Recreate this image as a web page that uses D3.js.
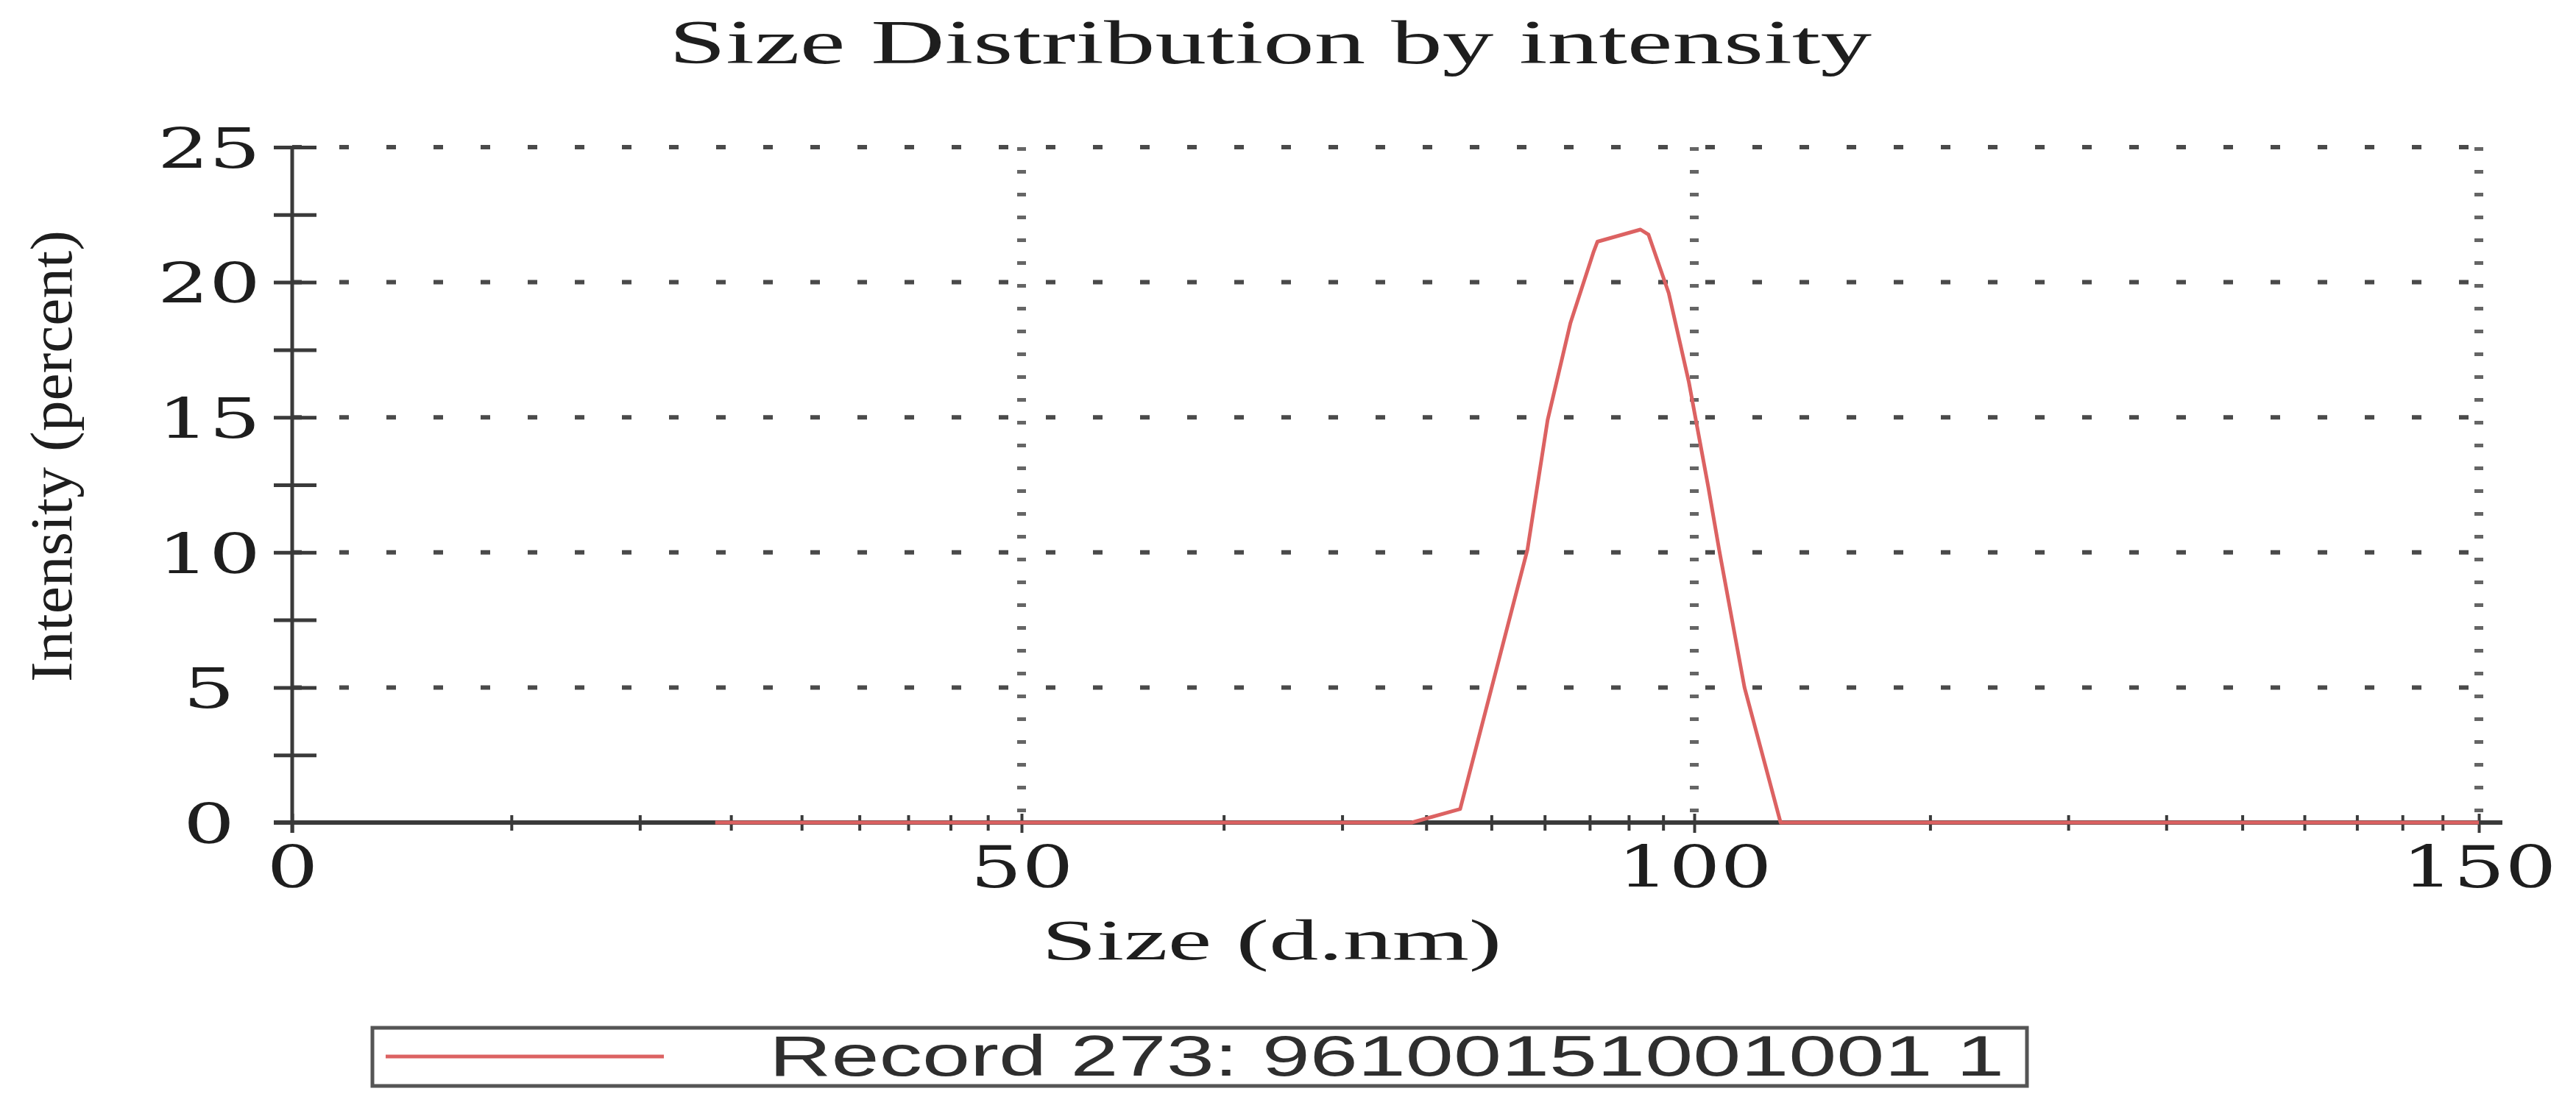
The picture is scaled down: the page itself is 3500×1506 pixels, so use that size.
<!DOCTYPE html>
<html>
<head>
<meta charset="utf-8">
<script src="https://cdn.jsdelivr.net/npm/d3@7"></script>
<style>
  html, body { margin: 0; padding: 0; background: #ffffff; }
  svg { display: block; }
</style>
</head>
<body>
<svg id="chart" width="3500" height="1506"></svg>
<script>
// ---- data ----
const chartTitle = "Size Distribution by intensity";
const xTitle = "Size (d.nm)";
const yTitle = "Intensity (percent)";
const legendLabel = "Record 273: 96100151001001 1";

const xTickValues = [0, 50, 100, 150];
const yTickValues = [0, 5, 10, 15, 20, 25];
const yMinorValues = [2.5, 7.5, 12.5, 17.5, 22.5];

const sizes = [29, 40, 50, 60, 70, 79, 82.6, 85.1, 87.6, 89.1, 90.8, 92.5, 92.8, 96.0, 96.6, 98.1, 99.6, 100.9, 101.6, 103.2, 105.5, 110, 120, 130, 140, 150];
const intensity = [0, 0, 0, 0, 0, 0, 0.5, 5.3, 10.1, 14.9, 18.5, 21.1, 21.5, 21.95, 21.76, 19.6, 16.3, 12.4, 10.05, 5.0, 0, 0, 0, 0, 0, 0];

// ---- layout ----
const svg = d3.select("#chart");
const x = d3.scaleLinear().domain(xTickValues).range([397, 1388, 2302, 3368]);
const y = d3.scaleLinear().domain([0, 25]).range([1118, 200]);

const axisColor = "#3a3a3a";
const gridColor = "#4a4a4a";
const lineColor = "#dc6262";
const textColor = "#1e1e1e";

// ---- grid ----
const grid = svg.append("g");
grid.selectAll("line.hg")
  .data(yTickValues.filter(v => v > 0))
  .join("line")
  .attr("x1", x(0)).attr("x2", x(150))
  .attr("y1", d => y(d)).attr("y2", d => y(d))
  .attr("stroke", gridColor).attr("stroke-width", 6)
  .attr("stroke-dasharray", "13,51");

grid.selectAll("line.vg")
  .data(xTickValues.filter(v => v > 0))
  .join("line")
  .attr("x1", d => x(d)).attr("x2", d => x(d))
  .attr("y1", y(25)).attr("y2", y(0))
  .attr("stroke", gridColor).attr("stroke-width", 12).attr("stroke-opacity", 0.85)
  .attr("stroke-dasharray", "5,26");

// ---- y axis ----
const yAxis = svg.append("g").attr("transform", `translate(${x(0)},0)`)
  .call(d3.axisLeft(y).tickValues(yTickValues.concat(yMinorValues)).tickSize(25).tickFormat(d => Number.isInteger(d) ? d : ""));
yAxis.select(".domain").remove();
yAxis.selectAll(".tick line").attr("x1", -25).attr("x2", 33).attr("stroke", axisColor).attr("stroke-width", 5);
yAxis.selectAll(".tick text")
  .attr("x", -113).attr("dy", "0.37em")
  .attr("text-anchor", "middle")
  .attr("fill", textColor)
  .style("font-family", "'DejaVu Serif', serif")
  .style("font-size", "74px")
  .attr("textLength", d => String(d).length * 70)
  .attr("lengthAdjust", "spacingAndGlyphs");
svg.append("line")
  .attr("x1", x(0)).attr("x2", x(0)).attr("y1", y(25)).attr("y2", y(0) + 14)
  .attr("stroke", axisColor).attr("stroke-width", 5);

// ---- x axis ----
svg.append("line")
  .attr("x1", x(0) - 25).attr("x2", x(150) + 32).attr("y1", y(0)).attr("y2", y(0))
  .attr("stroke", axisColor).attr("stroke-width", 6);

const minorX = [];
for (let i = 0; i < xTickValues.length - 1; i++) {
  const a = xTickValues[i], b = xTickValues[i + 1];
  for (let k = 2; k <= 9; k++) minorX.push(a + (b - a) * Math.log10(k));
}
const xAxis = svg.append("g").attr("transform", `translate(0,${y(0)})`)
  .call(d3.axisBottom(x).tickValues(xTickValues).tickSize(14).tickFormat(d3.format("d")));
xAxis.select(".domain").remove();
xAxis.selectAll(".tick line").attr("y1", -12).attr("y2", 14).attr("stroke", axisColor).attr("stroke-width", 4);
xAxis.selectAll(".tick text")
  .attr("y", 88).attr("dy", 0)
  .attr("fill", textColor)
  .style("font-family", "'DejaVu Serif', serif")
  .style("font-size", "78px")
  .attr("textLength", d => String(d).length * 70)
  .attr("lengthAdjust", "spacingAndGlyphs");

svg.append("g").selectAll("line")
  .data(minorX)
  .join("line")
  .attr("x1", d => x(d)).attr("x2", d => x(d))
  .attr("y1", y(0) - 10).attr("y2", y(0) + 11)
  .attr("stroke", axisColor).attr("stroke-width", 4);

// ---- data line ----
const pts = sizes.map((s, i) => [s, intensity[i]]);
svg.append("path")
  .datum(pts)
  .attr("fill", "none")
  .attr("stroke", lineColor)
  .attr("stroke-width", 5)
  .attr("stroke-linejoin", "round")
  .attr("d", d3.line().x(d => x(d[0])).y(d => y(d[1])));

// ---- titles ----
svg.append("text")
  .attr("x", 1726).attr("y", 86)
  .attr("text-anchor", "middle")
  .attr("fill", textColor)
  .style("font-family", "'Liberation Serif', serif")
  .style("font-size", "84px")
  .attr("textLength", 1634).attr("lengthAdjust", "spacingAndGlyphs")
  .text(chartTitle);

svg.append("text")
  .attr("x", 1728).attr("y", 1304)
  .attr("text-anchor", "middle")
  .attr("fill", textColor)
  .style("font-family", "'Liberation Serif', serif")
  .style("font-size", "78px")
  .attr("textLength", 625).attr("lengthAdjust", "spacingAndGlyphs")
  .text(xTitle);

svg.append("text")
  .attr("transform", "translate(97,620) rotate(-90)")
  .attr("text-anchor", "middle")
  .attr("fill", textColor)
  .style("font-family", "'Liberation Serif', serif")
  .style("font-size", "80px")
  .attr("textLength", 614).attr("lengthAdjust", "spacingAndGlyphs")
  .text(yTitle);

// ---- legend ----
const lg = svg.append("g");
lg.append("rect")
  .attr("x", 506).attr("y", 1397).attr("width", 2248).attr("height", 79)
  .attr("fill", "#ffffff").attr("stroke", "#555555").attr("stroke-width", 5);
lg.append("line")
  .attr("x1", 524).attr("x2", 902).attr("y1", 1436).attr("y2", 1436)
  .attr("stroke", lineColor).attr("stroke-width", 5);
lg.append("text")
  .attr("x", 1045).attr("y", 1462)
  .attr("fill", "#2e2e2e")
  .style("font-family", "'Liberation Sans', Arial, sans-serif")
  .style("font-size", "78px")
  .attr("textLength", 1678).attr("lengthAdjust", "spacingAndGlyphs")
  .text(legendLabel);
</script>
</body>
</html>
